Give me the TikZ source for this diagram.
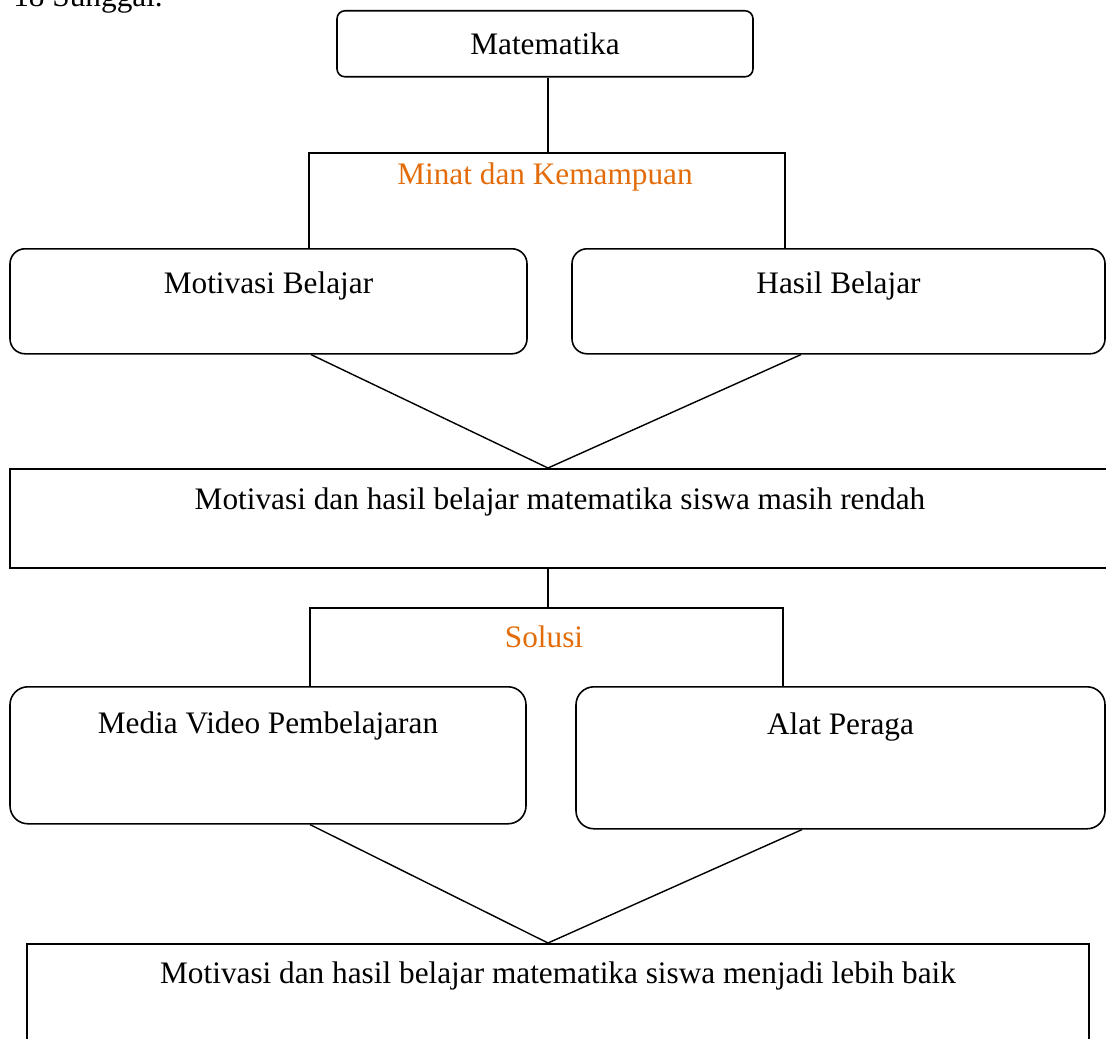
\documentclass[tikz,border=0pt]{standalone}
\usepackage{fontspec}
\setmainfont{Liberation Serif}
\usepackage{tikz}
\definecolor{judul}{RGB}{227,108,10}
\newcommand{\teks}{\fontsize{17.8}{21}\selectfont}
\tikzstyle{rbox}=[draw,line width=0.9pt,rounded corners=0.3cm,inner sep=0pt,anchor=north,font=\teks]
\tikzstyle{sbox}=[draw,line width=1pt,inner sep=0pt,anchor=north,font=\teks]
\tikzstyle{heading}=[text=judul,inner sep=0pt,anchor=base,font=\teks]
\tikzstyle{link}=[line width=0.8pt]

\begin{document}
\begin{tikzpicture}
                  \useasboundingbox (0,0) rectangle (22.12,-20.76);
                  \clip (0,0) rectangle (22.12,-20.76);

                  \node (sg) at (0.26,-0.14) [anchor=base west,inner sep=0pt,font=\teks] {18 Sunggal.};

                  \node (mat) at (10.90,-0.20) [rbox,rounded corners=0.16cm,minimum width=8.32cm,text height=0.88cm,text depth=0.44cm] {Matematika};
                  \node (minat) at (10.90,-3.70) [heading] {Minat dan Kemampuan};
                  \coordinate (k1) at (6.18,-3.06);
                  \coordinate (k2) at (15.70,-3.06);

                  \node (mb) at (5.37,-4.96) [rbox,minimum width=10.34cm,text height=0.90cm,text depth=1.20cm] {Motivasi Belajar};
                  \node (hb) at (16.77,-4.96) [rbox,minimum width=10.66cm,text height=0.90cm,text depth=1.20cm] {Hasil Belajar};

                  \node (rd) at (11.20,-9.36) [sbox,minimum width=22.00cm,text height=0.82cm,text depth=1.16cm] {Motivasi dan hasil belajar matematika siswa masih rendah};
                  \node (sol) at (10.88,-12.94) [heading] {Solusi};
                  \coordinate (s1) at (6.20,-12.16);
                  \coordinate (s2) at (15.66,-12.16);

                  \node (mv) at (5.36,-13.72) [rbox,rounded corners=0.36cm,minimum width=10.32cm,text height=0.94cm,text depth=1.80cm] {Media Video Pembelajaran};
                  \node (ap) at (16.81,-13.72) [rbox,rounded corners=0.36cm,minimum width=10.58cm,text height=0.96cm,text depth=1.88cm] {Alat Peraga};

                  \node (lb) at (11.16,-18.86) [sbox,minimum width=21.24cm,text height=0.80cm,text depth=1.60cm] {Motivasi dan hasil belajar matematika siswa menjadi lebih baik};

                  \draw [link] ([xshift=0.06cm]mat.south) -- ([xshift=0.06cm]mat.south |- k1);
                  \draw [link] (mb.north -| k1) -- (k1) -- (k2) -- (hb.north -| k2);

                  \draw [link] ([xshift=0.85cm]mb.south) -- ([xshift=-0.24cm]rd.north);
                  \draw [link] ([xshift=-0.75cm]hb.south) -- ([xshift=-0.24cm]rd.north);

                  \draw [link] ([xshift=-0.24cm]rd.south) -- ([xshift=-0.24cm]rd.south |- s1);
                  \draw [link] (mv.north -| s1) -- (s1) -- (s2) -- (ap.north -| s2);

                  \draw [link] ([xshift=0.84cm]mv.south) -- ([xshift=-0.20cm]lb.north);
                  \draw [link] ([xshift=-0.77cm]ap.south) -- ([xshift=-0.20cm]lb.north);
              \end{tikzpicture}
\end{document}
